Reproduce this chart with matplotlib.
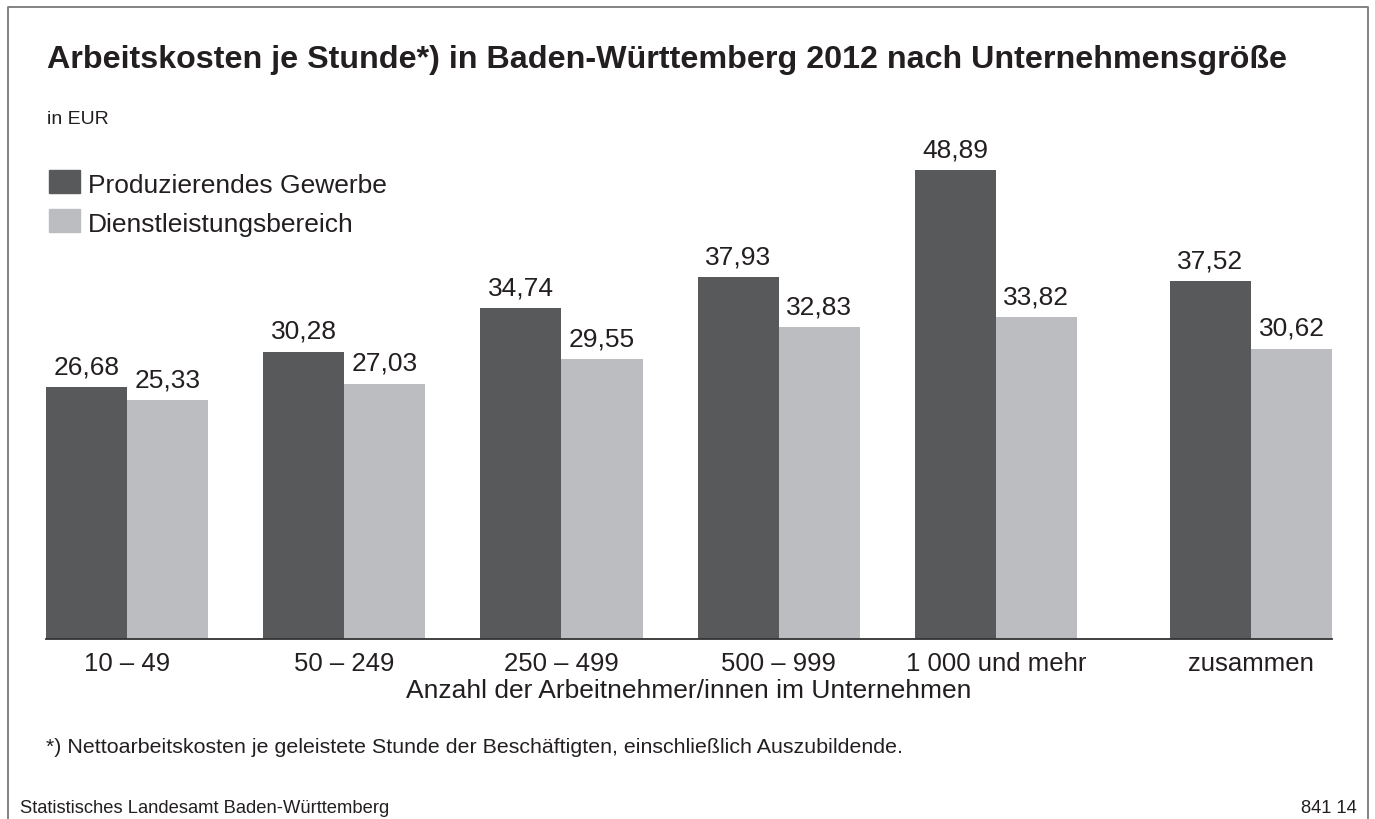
import numpy as np
import matplotlib.pyplot as plt
from matplotlib.patches import Rectangle

plt.rcParams['font.family'] = ['Liberation Sans', 'DejaVu Sans']

# Daten
kategorien = ['10 – 49', '50 – 249', '250 – 499', '500 – 999', '1 000 und mehr', 'zusammen']
produzierend = [26.68, 30.28, 34.74, 37.93, 48.89, 37.52]
dienstleistung = [25.33, 27.03, 29.55, 32.83, 33.82, 30.62]
serien = ['Produzierendes Gewerbe', 'Dienstleistungsbereich']

farbe_dunkel = '#58595b'
farbe_hell = '#bcbdc0'
textfarbe = '#231f20'

W, H = 1375, 820
fig = plt.figure(figsize=(W / 100, H / 100), dpi=100)


def fx(px):
    return px / W


def fy(py):
    return 1 - py / H


# Rahmen (oben, links, rechts)
fig.add_artist(plt.Line2D([fx(8), fx(8), fx(1368), fx(1368)],
                          [0, fy(8), fy(8), 0], color='#7a7a7a', lw=1.3,
                          transform=fig.transFigure))

# Achse
ax = fig.add_axes([fx(46), fy(640), fx(1332) - fx(46), fy(100) - fy(640)])

# letzte Gruppe etwas abgesetzt
x = np.arange(len(kategorien), dtype=float)
x[-1] += 0.174
breite = 0.373

b1 = ax.bar(x - breite / 2, produzierend, breite, color=farbe_dunkel, label=serien[0])
b2 = ax.bar(x + breite / 2, dienstleistung, breite, color=farbe_hell, label=serien[1])

for bars, werte in ((b1, produzierend), (b2, dienstleistung)):
    for r, v in zip(bars, werte):
        ax.annotate(f'{v:.2f}'.replace('.', ','),
                    (r.get_x() + r.get_width() / 2, v),
                    xytext=(0, 10), textcoords='offset points',
                    ha='center', va='baseline', fontsize=19, color=textfarbe)

ax.set_xlim(-breite, x[-1] + breite)
ax.set_ylim(0.9, 56.15)
ax.set_yticks([])
ax.set_xticks(x)
ax.set_xticklabels(kategorien, fontsize=18.5, color=textfarbe)
ax.tick_params(axis='x', length=0, pad=8.5)
for s in ('top', 'right', 'left'):
    ax.spines[s].set_visible(False)
ax.spines['bottom'].set_color('#333333')
ax.spines['bottom'].set_linewidth(1.3)
ax.set_xlabel('Anzahl der Arbeitnehmer/innen im Unternehmen', fontsize=19,
              color=textfarbe, labelpad=2.5)

# Legende von Hand
for i, (name, farbe) in enumerate(zip(serien, [farbe_dunkel, farbe_hell])):
    y0 = 171 + i * 39
    fig.add_artist(Rectangle((fx(49), fy(y0 + 23)), fx(31), fy(y0) - fy(y0 + 23),
                             color=farbe, transform=fig.transFigure))
    fig.text(fx(88), fy(y0 + 22), name, fontsize=19, color=textfarbe, va='baseline')

# Texte
fig.text(fx(47), fy(68), 'Arbeitskosten je Stunde*) in Baden-Württemberg 2012 nach Unternehmensgröße',
         fontsize=23.2, fontweight='bold', color=textfarbe, va='baseline')
fig.text(fx(47), fy(124), 'in EUR', fontsize=14, color=textfarbe, va='baseline')
fig.text(fx(46), fy(753), '*) Nettoarbeitskosten je geleistete Stunde der Beschäftigten, '
         'einschließlich Auszubildende.', fontsize=15.4, color=textfarbe, va='baseline')
fig.text(fx(20), fy(813), 'Statistisches Landesamt Baden-Württemberg', fontsize=13.2,
         color=textfarbe, va='baseline')
fig.text(fx(1357), fy(813), '841 14', fontsize=13.2, color=textfarbe, va='baseline', ha='right')

fig.savefig('out.png', dpi=100)
